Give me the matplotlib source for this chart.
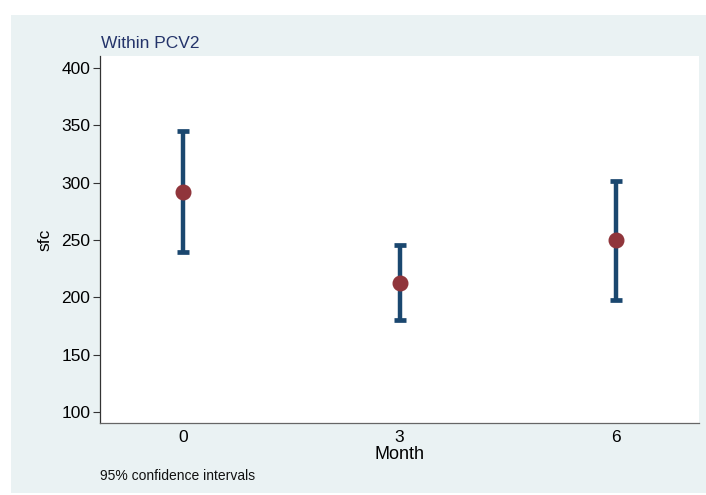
import matplotlib
matplotlib.use("Agg")
import matplotlib.pyplot as plt

months = [0, 3, 6]
means = [292, 212.8, 250]
upper = [345, 245.4, 301.8]
lower = [239.5, 180.3, 197.7]
yticks = [100, 150, 200, 250, 300, 350, 400]

plt.rcParams['font.family'] = ['Liberation Sans', 'DejaVu Sans']

W, H = 706, 495
fig = plt.figure(figsize=(W / 100, H / 100), dpi=100)
fig.patch.set_facecolor('white')
# light background panel
bg = plt.Rectangle((11 / W, 2 / H), 1 - 11 / W, 1 - 17 / H, transform=fig.transFigure,
                   facecolor='#EAF2F3', edgecolor='none', zorder=-10)
fig.patches.append(bg)

ax = fig.add_axes([100 / W, 1 - 423 / H, (699 - 100) / W, (423 - 56) / H])
ax.set_zorder(1)
ax.set_facecolor('white')

yerr_lo = [m - l for m, l in zip(means, lower)]
yerr_hi = [u - m for m, u in zip(means, upper)]
eb = ax.errorbar(months, means, yerr=[yerr_lo, yerr_hi], fmt='none', ecolor='#1A476F',
                 elinewidth=3.2, capsize=4.5, capthick=3.4, zorder=2)
ax.plot(months, means, 'o', color='#90353B', markersize=10.5, zorder=3)

ax.set_xlim(-1.15, 7.15)
ax.set_ylim(90.4, 410.5)
ax.set_xticks(months)
ax.set_xticklabels([str(m) for m in months], fontsize=12.5)
ax.set_yticks(yticks)
ax.set_yticklabels([str(v) for v in yticks], fontsize=12.5)
ax.tick_params(axis='x', length=0, pad=5)
ax.tick_params(axis='y', length=5, width=0.8, color='#333333', pad=2)
for s in ['top', 'right']:
    ax.spines[s].set_visible(False)
ax.spines['left'].set_color('#333333')
ax.spines['bottom'].set_color('#666666')
ax.spines['left'].set_linewidth(0.9)
ax.spines['bottom'].set_linewidth(0.9)

ax.set_xlabel('Month', fontsize=13, labelpad=1)
ax.set_ylabel('sfc', fontsize=12.5, labelpad=6)

fig.text(101 / W, 1 - 43 / H, 'Within PCV2', fontsize=12.5, color='#24346A',
         ha='left', va='center')
fig.text(100 / W, 1 - 476 / H, '95% confidence intervals', fontsize=10,
         color='#111111', ha='left', va='center')

fig.savefig('out.png', dpi=100, facecolor=fig.get_facecolor())
